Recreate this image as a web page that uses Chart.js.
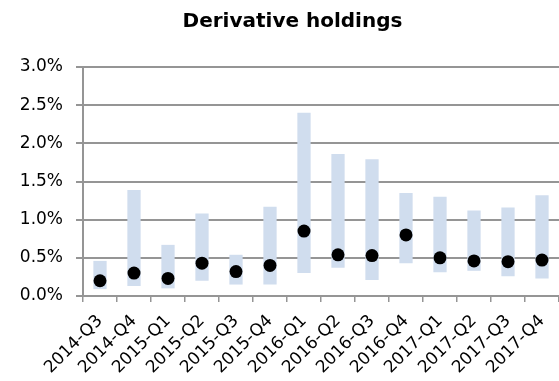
<!DOCTYPE html>
<html>
<head>
<meta charset="utf-8">
<script src="https://cdn.jsdelivr.net/npm/chart.js@4"></script>
<style>
  html, body { margin: 0; padding: 0; background: #fff; }
  #wrap { width: 559px; height: 381px; }
</style>
</head>
<body>
<div id="wrap"><canvas id="holdingsChart" width="559" height="381"></canvas></div>
<script>
// Quarters shown on the x axis
const quarters = [
  "2014-Q3", "2014-Q4", "2015-Q1", "2015-Q2", "2015-Q3", "2015-Q4", "2016-Q1",
  "2016-Q2", "2016-Q3", "2016-Q4", "2017-Q1", "2017-Q2", "2017-Q3", "2017-Q4"
];

// Range of holdings (% of assets), low and high ends of each bar
const rangeLow  = [0.09, 0.13, 0.10, 0.20, 0.15, 0.15, 0.30, 0.37, 0.21, 0.43, 0.31, 0.33, 0.26, 0.23];
const rangeHigh = [0.46, 1.39, 0.67, 1.08, 0.54, 1.17, 2.40, 1.86, 1.79, 1.35, 1.30, 1.12, 1.16, 1.32];

// Median (black dots)
const median = [0.20, 0.30, 0.23, 0.43, 0.32, 0.40, 0.85, 0.54, 0.53, 0.80, 0.50, 0.46, 0.45, 0.47];

const rangeBars = quarters.map((q, i) => [rangeLow[i], rangeHigh[i]]);

const gridGrey = "#959595";
const font = "'DejaVu Sans', Verdana, sans-serif";

// nudge the title a little right, like the original
const titleShift = {
  id: "titleShift",
  afterLayout(chart) {
    if (chart.titleBlock) chart.titleBlock.left += 26;
  }
};

const holdingsData = {
  labels: quarters,
  datasets: [
    {
      type: "line",
      label: "Median",
      data: median,
      showLine: false,
      pointRadius: 6.5,
      pointHoverRadius: 6.5,
      pointBackgroundColor: "#000000",
      pointBorderColor: "#000000",
      pointBorderWidth: 0,
      order: 0
    },
    {
      type: "bar",
      label: "Range",
      data: rangeBars,
      backgroundColor: "#d0ddee",
      borderWidth: 0,
      categoryPercentage: 1,
      barPercentage: 0.39,
      order: 1
    }
  ]
};

const holdingsConfig = {
  data: holdingsData,
  plugins: [titleShift],
  options: {
    responsive: false,
    animation: false,
    layout: { autoPadding: false, padding: { left: 0, right: 0, top: 0, bottom: 0 } },
    plugins: {
      legend: { display: false },
      tooltip: { enabled: false },
      title: {
        display: true,
        text: "Derivative holdings",
        color: "#000",
        font: { family: font, size: 20, weight: "bold" },
        padding: { top: 10, bottom: 33 }
      }
    },
    scales: {
      x: {
        offset: true,
        afterFit: scale => {
          scale.height = 85;
          scale.paddingLeft = 0;
          scale.paddingRight = 0;
        },
        grid: {
          offset: true,
          drawOnChartArea: false,
          drawTicks: true,
          tickLength: 6,
          color: gridGrey,
          lineWidth: 1.5
        },
        border: { color: gridGrey, width: 2 },
        ticks: {
          color: "#000",
          minRotation: 45,
          maxRotation: 45,
          autoSkip: false,
          padding: 9,
          font: { family: font, size: 17 }
        }
      },
      y: {
        min: 0,
        max: 3,
        afterFit: scale => { scale.width = 83; },
        grid: {
          color: gridGrey,
          lineWidth: 2,
          drawTicks: true,
          tickLength: 7
        },
        border: { color: gridGrey, width: 2 },
        ticks: {
          stepSize: 0.5,
          color: "#000",
          padding: 13,
          font: { family: font, size: 17 },
          callback: v => v.toFixed(1) + "%"
        }
      }
    }
  }
};

const ctx = document.getElementById("holdingsChart");
new Chart(ctx, holdingsConfig);
</script>
</body>
</html>
